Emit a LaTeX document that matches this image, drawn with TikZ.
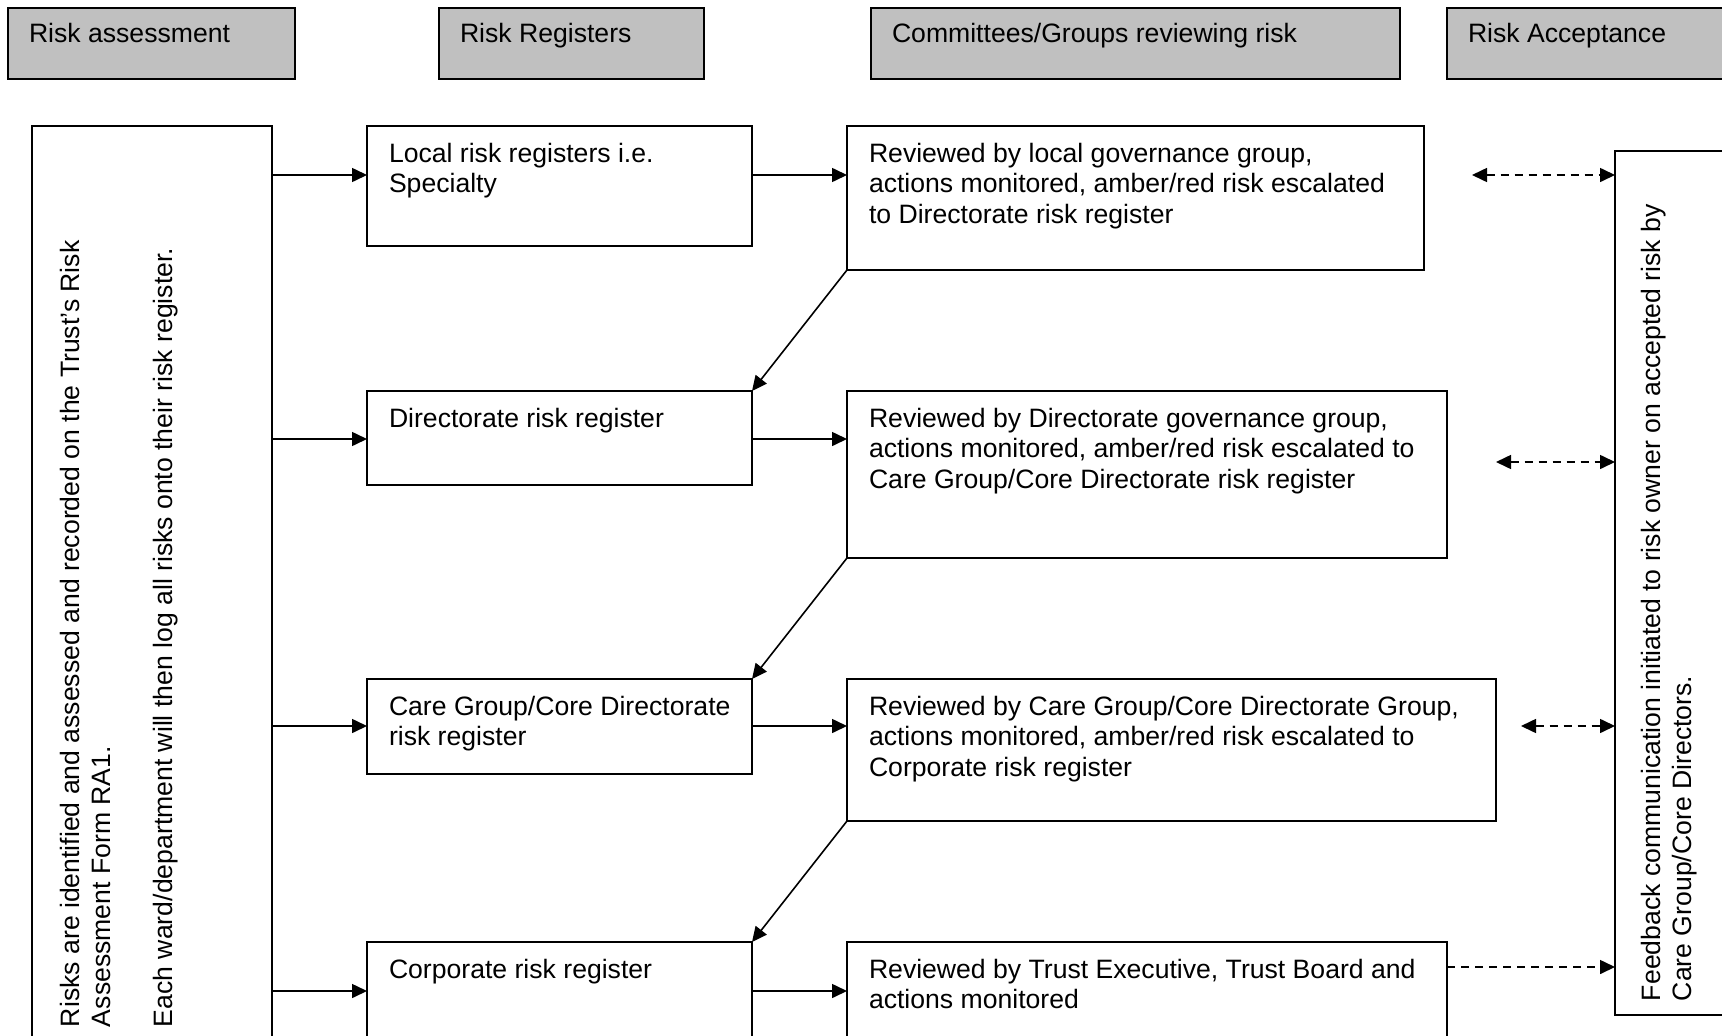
\documentclass[tikz,border=0pt]{standalone}
\usepackage{fontspec}
\setmainfont{Liberation Sans}
\usetikzlibrary{arrows.meta}
\definecolor{hdrgray}{HTML}{C0C0C0}
\begin{document}
\begin{tikzpicture}[x=1pt,y=1pt,
  >={Triangle[length=15pt,width=14pt]},
  every node/.style={inner sep=0pt, outer sep=0pt},
  txt/.style={font=\fontsize{26.6pt}{30.5pt}\selectfont, align=left, anchor=base west},
  vtxt/.style={font=\fontsize{26.6pt}{31pt}\selectfont, align=left, anchor=base west, rotate=90},
  framebox/.style={draw=black, line width=2pt, rectangle, anchor=north west},
  hdr/.style={framebox, fill=hdrgray, minimum height=71pt},
  link/.style={line width=1.6pt, ->},
  feed/.style={line width=1.6pt, dash pattern=on 8pt off 6pt},
]
\useasboundingbox (0,0) rectangle (1722,-1036);
\clip (0,0) rectangle (1722,-1036);

% column headings
\node[hdr, minimum width=287pt] (h1) at (8,-8) {};
\node[hdr, minimum width=265pt] (h2) at (439,-8) {};
\node[hdr, minimum width=529pt] (h3) at (871,-8) {};
\node[hdr, minimum width=400pt] (h4) at (1447,-8) {};
\node[txt] (h1t) at ([shift={(21pt,-34pt)}]h1.north west) {Risk assessment};
\node[txt] (h2t) at ([shift={(21pt,-34pt)}]h2.north west) {Risk Registers};
\node[txt] (h3t) at ([shift={(21pt,-34pt)}]h3.north west) {Committees/Groups reviewing risk};
\node[txt] (h4t) at ([shift={(21pt,-34pt)}]h4.north west) {Risk Acceptance};

% risk assessment column (anchored on the baseline of its last line)
\node[framebox, minimum width=240pt, minimum height=1000pt] (assess) at (32,-126) {};
\node[vtxt] (assesst) at (172,-1027)
  {Risks are identified and assessed and recorded on the Trust’s Risk\\
   Assessment Form RA1.\\[31pt]
   Each ward/department will then log all risks onto their risk register.};

% risk registers
\node[framebox, minimum width=385pt, minimum height=120pt] (r1) at (367,-126) {};
\node[framebox, minimum width=385pt, minimum height=94pt]  (r2) at (367,-391) {};
\node[framebox, minimum width=385pt, minimum height=95pt]  (r3) at (367,-679) {};
\node[framebox, minimum width=385pt, minimum height=200pt] (r4) at (367,-942) {};
\node[txt] (r1t) at ([shift={(22pt,-66.5pt)}]r1.north west) {Local risk registers i.e.\\Specialty};
\node[txt] (r2t) at ([shift={(22pt,-36pt)}]r2.north west) {Directorate risk register};
\node[txt] (r3t) at ([shift={(22pt,-66.5pt)}]r3.north west) {Care Group/Core Directorate\\risk register};
\node[txt] (r4t) at ([shift={(22pt,-36pt)}]r4.north west) {Corporate risk register};

% reviewing committees
\node[framebox, minimum width=577pt, minimum height=144pt] (c1) at (847,-126) {};
\node[framebox, minimum width=600pt, minimum height=167pt] (c2) at (847,-391) {};
\node[framebox, minimum width=649pt, minimum height=142pt] (c3) at (847,-679) {};
\node[framebox, minimum width=600pt, minimum height=200pt] (c4) at (847,-942) {};
\node[txt] (c1t) at ([shift={(22pt,-97pt)}]c1.north west)
  {Reviewed by local governance group,\\actions monitored, amber/red risk escalated\\to Directorate risk register};
\node[txt] (c2t) at ([shift={(22pt,-97pt)}]c2.north west)
  {Reviewed by Directorate governance group,\\actions monitored, amber/red risk escalated to\\Care Group/Core Directorate risk register};
\node[txt] (c3t) at ([shift={(22pt,-97pt)}]c3.north west)
  {Reviewed by Care Group/Core Directorate Group,\\actions monitored, amber/red risk escalated to\\Corporate risk register};
\node[txt] (c4t) at ([shift={(22pt,-66.5pt)}]c4.north west)
  {Reviewed by Trust Executive, Trust Board and\\actions monitored};

% risk acceptance
\node[framebox, minimum width=200pt, minimum height=864pt] (fb) at (1615,-151) {};
\node[vtxt] (fbt) at (1691,-1001)
  {Feedback communication initiated to risk owner on accepted risk by\\Care Group/Core Directors.};

% row levels of the horizontal connectors
\coordinate (row1) at (0,-175);
\coordinate (row2) at (0,-439);
\coordinate (row3) at (0,-726);
\coordinate (row4) at (0,-991);
\coordinate (fd1) at (1472,-175);
\coordinate (fd2) at (1496,-462);
\coordinate (fd3) at (1521,-726);
\coordinate (fd4) at (0,-967);

% assessment -> registers
\draw[link] (assess.east |- row1) -- (r1.west |- row1);
\draw[link] (assess.east |- row2) -- (r2.west |- row2);
\draw[link] (assess.east |- row3) -- (r3.west |- row3);
\draw[link] (assess.east |- row4) -- (r4.west |- row4);

% registers -> committees
\draw[link] (r1.east |- row1) -- (c1.west |- row1);
\draw[link] (r2.east |- row2) -- (c2.west |- row2);
\draw[link] (r3.east |- row3) -- (c3.west |- row3);
\draw[link] (r4.east |- row4) -- (c4.west |- row4);

% escalation to the next register
\draw[link] (c1.south west) -- (r2.north east);
\draw[link] (c2.south west) -- (r3.north east);
\draw[link] (c3.south west) -- (r4.north east);

% feedback links
\draw[feed, <->] (fd1) -- (fb.west |- fd1);
\draw[feed, <->] (fd2) -- (fb.west |- fd2);
\draw[feed, <->] (fd3) -- (fb.west |- fd3);
\draw[feed, ->] (c4.east |- fd4) -- (fb.west |- fd4);
\end{tikzpicture}
\end{document}
